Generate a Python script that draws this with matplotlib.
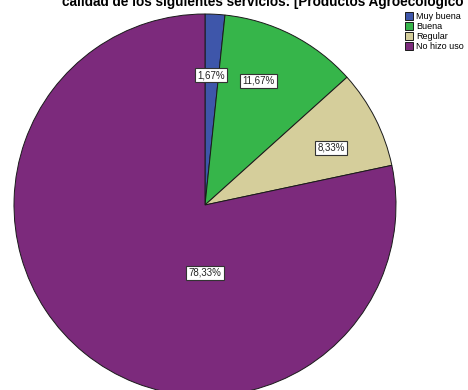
import matplotlib
matplotlib.use('Agg')
import matplotlib.pyplot as plt

plt.rcParams['font.family'] = ['Liberation Sans', 'DejaVu Sans']

categorias = ["Muy buena", "Buena", "Regular", "No hizo uso"]
porcentajes = [1.67, 11.67, 8.33, 78.33]
colores = ["#3e56aa", "#36b54a", "#d5ce9b", "#7c2a7c"]
# posicion de cada etiqueta, en radios desde el centro
pos_etiquetas = [(0.03, 0.68), (0.28, 0.65), (0.66, 0.30), (0.0, -0.355)]

fig = plt.figure(figsize=(4.68, 3.9), dpi=100)
ax = fig.add_axes([14 / 468, -6 / 390, 382 / 468, 382 / 390])

wedges, _ = ax.pie(porcentajes, colors=colores, startangle=90, counterclock=False,
                   radius=1.0, wedgeprops=dict(edgecolor='#1a1a1a', linewidth=0.7))
ax.set_xlim(-1, 1)
ax.set_ylim(-1, 1)
ax.set_aspect('equal')
ax.axis('off')

for p, (x, y) in zip(porcentajes, pos_etiquetas):
    ax.text(x, y, ("%.2f%%" % p).replace('.', ','), ha='center', va='center',
            fontsize=7, color='#222222',
            bbox=dict(boxstyle='square,pad=0.22', facecolor='white',
                      edgecolor='#333333', linewidth=0.8))

fig.text(263 / 468, 1 - 6 / 390,
         "calidad de los siguientes servicios: [Productos Agroecológico",
         ha='center', va='baseline', fontsize=9.8, fontweight='bold')

fig.legend(wedges, categorias, loc='upper left',
           bbox_to_anchor=(405 / 468, 1 - 12 / 390), frameon=False,
           fontsize=6.5, labelspacing=0.12, handlelength=0.9, handleheight=0.9,
           handletextpad=0.3, borderpad=0, borderaxespad=0)

plt.savefig("out.png", dpi=100)
